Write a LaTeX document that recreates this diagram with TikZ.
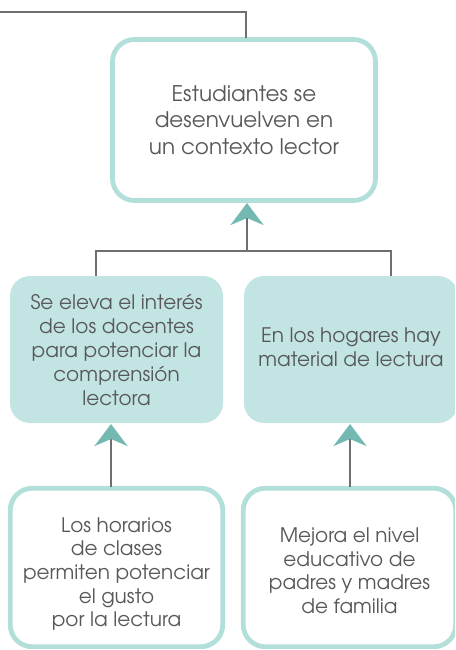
\documentclass[tikz,border=0pt]{standalone}
\usepackage{fontspec}
\setmainfont{TeX Gyre Adventor}
\usetikzlibrary{arrows.meta}
\definecolor{tealborder}{HTML}{B3DFDB}
\definecolor{tealfill}{HTML}{C2E5E3}
\definecolor{tealarrow}{HTML}{74B9B1}
\definecolor{linegray}{HTML}{6E6E73}
\definecolor{textgray}{HTML}{58585A}
\begin{document}
\begin{tikzpicture}[x=1pt,y=-1pt,
  every node/.style={inner sep=0pt, outer sep=0pt, text=textgray, align=center},
  outlinebox/.style={draw=tealborder, line width=4.8pt, fill=white, rounded corners=22pt},
  filledbox/.style={fill=tealfill, rounded corners=20pt},
  bigtext/.style={font=\fontsize{21.5}{26.7}\selectfont},
  midtext/.style={font=\fontsize{20}{24}\selectfont},
  bottext/.style={font=\fontsize{20}{23.7}\selectfont},
  conn/.style={draw=linegray, line width=2.8pt},
  uparrow/.style={conn, -{Stealth[length=22pt, width=33pt, inset=7pt, color=tealarrow]}}
]
\useasboundingbox (0,0) rectangle (455,650);
\clip (0,0) rectangle (455,650);

% boxes
\node[outlinebox, bigtext, minimum width=263pt, minimum height=161pt] (top) at (244,120)
  {Estudiantes se\\desenvuelven en\\un contexto lector};
\node[filledbox, midtext, minimum width=213pt, minimum height=147pt] (midL) at (116.5,349.5)
  {Se eleva el interés\\de los docentes\\para potenciar la\\comprensión\\lectora};
\node[filledbox, midtext, minimum width=214pt, minimum height=147pt] (midR) at (351,349.5)
  {En los hogares hay\\material de lectura\rule[-5pt]{0pt}{0pt}};
\node[outlinebox, bottext, minimum width=212.5pt, minimum height=158.5pt] (botL) at (116.5,567.5)
  {\rule{0pt}{28pt}Los horarios\\de clases\\permiten potenciar\\el gusto\\por la lectura};
\node[outlinebox, bottext, minimum width=212.5pt, minimum height=158.5pt] (botR) at (349.5,567.5)
  {\rule{0pt}{21pt}Mejora el nivel\\educativo de\\padres y madres\\de familia};

% anchor points on the box edges
\coordinate (topin) at ([xshift=2pt, yshift=1.5pt]top.north);
\coordinate (topout) at ([yshift=-2.5pt]top.south);
\coordinate (botLtop) at ([xshift=-5.5pt, yshift=1.5pt]botL.north);
\coordinate (botRtop) at ([xshift=0.5pt, yshift=1.5pt]botR.north);
\coordinate (midLbot) at ([xshift=-5.5pt, yshift=-1pt]midL.south);
\coordinate (midRbot) at ([xshift=-1pt, yshift=-1pt]midR.south);

% connector coming from the left
\coordinate (start) at (0,12);
\draw[conn] (start) -| (topin);

% junction below the top box
\coordinate (jl) at (96,251);
\coordinate (jr) at (391,251);
\coordinate (jc) at (247,251);
\draw[conn] (jl |- midL.north) -- (jl) -- (jr) -- (jr |- midR.north);
\draw[uparrow] (jc) -- (jc |- topout);

% arrows from bottom boxes to middle boxes
\draw[uparrow] (botLtop) -- (midLbot);
\draw[uparrow] (botRtop) -- (botRtop |- midRbot);
\end{tikzpicture}
\end{document}
